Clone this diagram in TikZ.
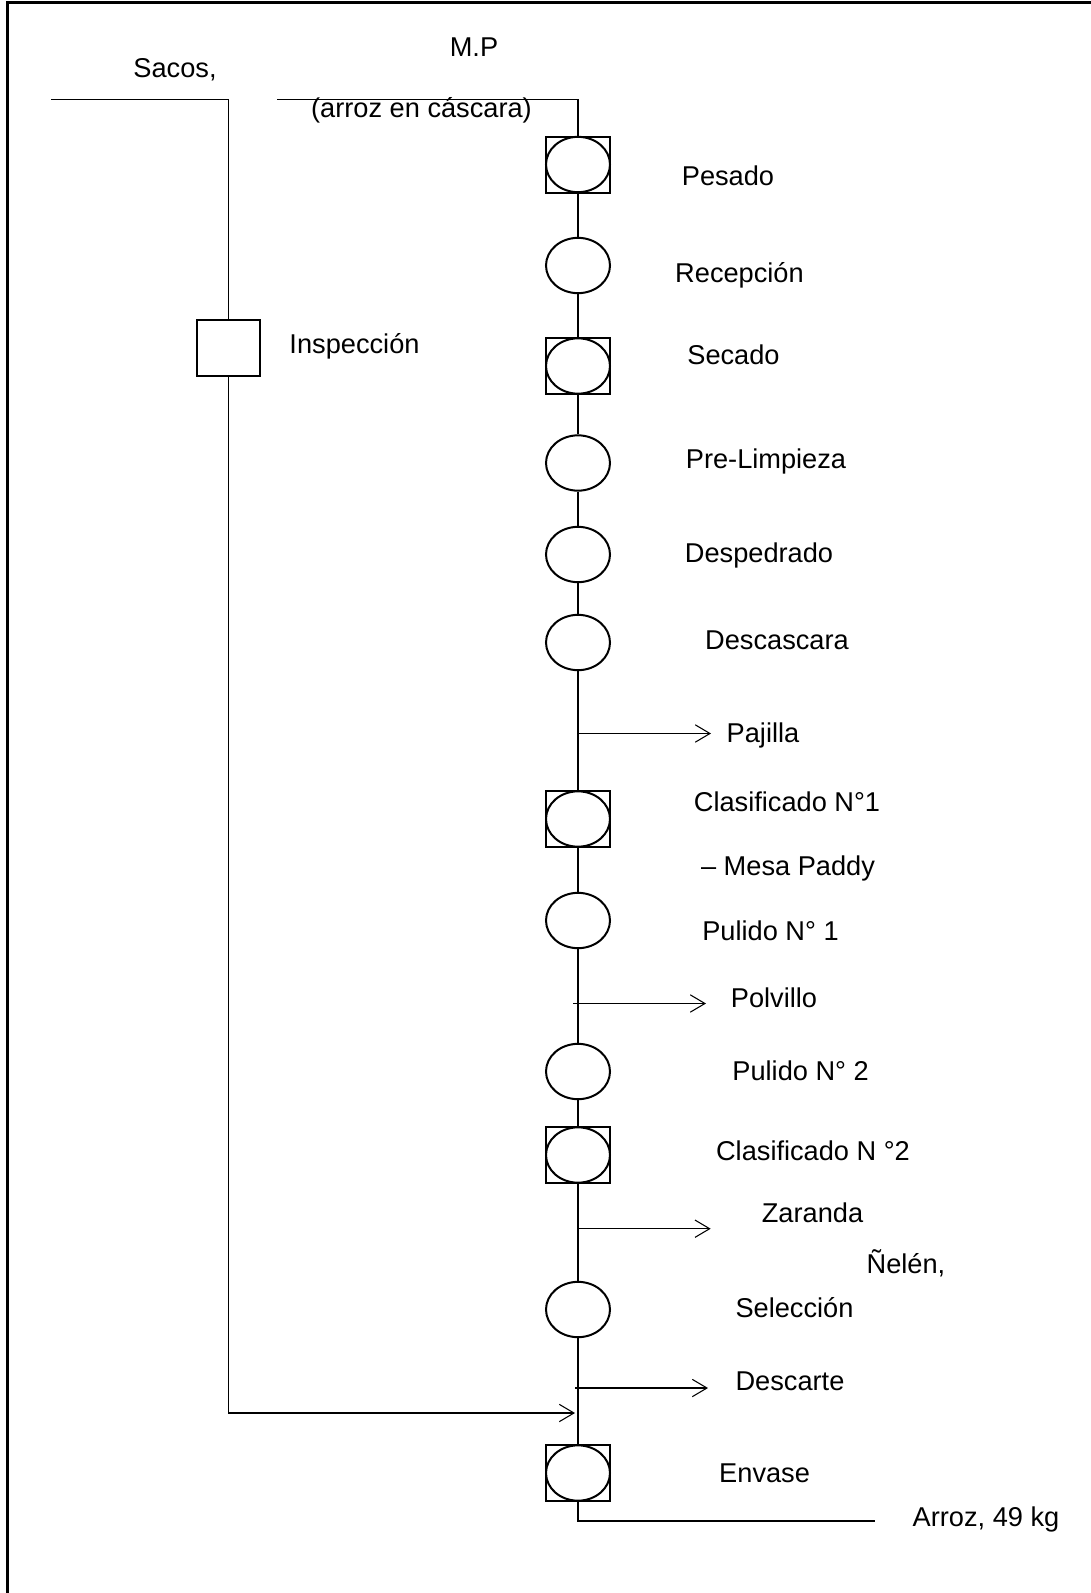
\documentclass[tikz,border=0pt]{standalone}
\usepackage{fontspec}
\setmainfont{Liberation Sans}
\usetikzlibrary{shapes.geometric,arrows.meta}

\tikzset{
  oper/.style={ellipse, draw, line width=1.5pt, minimum width=48pt, minimum height=41.5pt, inner sep=0pt},
  insp/.style={rectangle, draw, line width=1.5pt, minimum width=47.5pt, minimum height=42pt, inner sep=0pt},
  flow/.style={line width=0.8pt},
  salida/.style={flow, -{Straight Barb[length=11pt,width=13pt,line width=0.8pt]}},
  lbl/.style={anchor=base, inner sep=0pt, font=\fontsize{20.4}{24}\selectfont},
}

\begin{document}
\begin{tikzpicture}[x=0.75pt,y=0.75pt,yscale=-1]
\useasboundingbox (0,0) rectangle (1091,1593);

%Frame
\draw [line width=2pt] (7.3,1593) -- (7.3,2.5) -- (1091,2.5) ;

%Entradas
\coordinate (sacosini) at (51,99.5);
\coordinate (sacosesq) at (228.5,99.5);
\coordinate (sacosbaj) at (228.5,1413);
\coordinate (sacosfin) at (575,1413);
\coordinate (mpini) at (277,99.5);
\coordinate (mpesq) at (578,99.5);

%Shape: Square
\node [insp] (inspeccion) at (228.5,348) {};

%Operaciones
\node [insp] (pesado) at (578,164.5) {};
\node [oper] at (pesado) {};
\node [oper] (recepcion) at (578,265.5) {};
\node [insp] (secado) at (578,366) {};
\node [oper] at (secado) {};
\node [oper] (prelimpieza) at (578,463) {};
\node [oper] (despedrado) at (578,554.5) {};
\node [oper] (descascara) at (578,642.5) {};
\node [insp] (clasif1) at (578,819) {};
\node [oper] at (clasif1) {};
\node [oper] (pulido1) at (578,920.5) {};
\node [oper] (pulido2) at (578,1071.5) {};
\node [insp] (clasif2) at (578,1155) {};
\node [oper] at (clasif2) {};
\node [oper] (seleccion) at (578,1309.5) {};
\node [insp] (envase) at (578,1473) {};
\node [oper] at (envase) {};

%Salidas
\coordinate (pajillaini) at (578,733.5);
\coordinate (pajillafin) at (711,733.5);
\coordinate (polvilloini) at (573,1003.5);
\coordinate (polvillofin) at (706,1003.5);
\coordinate (zarandaini) at (578,1228.7);
\coordinate (zarandafin) at (710.7,1228.7);
\coordinate (descarteini) at (575,1388);
\coordinate (descartefin) at (708,1388);
\coordinate (arrozesq) at (578,1521);
\coordinate (arrozfin) at (874.5,1521);

%Straight Lines
\draw [flow] (sacosini) -- (sacosesq) -- (inspeccion) ;
\draw [salida] (inspeccion) -- (sacosbaj) -- (sacosfin) ;
\draw [flow] (mpini) -- (mpesq) -- (pesado) ;
\draw [flow] (pesado) -- (recepcion) -- (secado) -- (prelimpieza) -- (despedrado) -- (descascara) -- (clasif1) -- (pulido1) -- (pulido2) -- (clasif2) -- (seleccion) -- (envase) ;
\draw [flow] (envase) -- (arrozesq) -- (arrozfin) ;
\draw [salida] (pajillaini) -- (pajillafin) ;
\draw [salida] (polvilloini) -- (polvillofin) ;
\draw [salida] (zarandaini) -- (zarandafin) ;
\draw [salida] (descarteini) -- (descartefin) ;

% Text Node
\node [lbl] (tmp) at (474,56.7) {M.P};
% Text Node
\node [lbl] (tsacos) at (175,77.3) {Sacos,};
% Text Node
\node [lbl] (tcascara) at (421.5,117.5) {(arroz en cáscara)};
% Text Node
\node [lbl] (tinspeccion) at (354.5,353.3) {Inspección};
% Text Node
\node [lbl] (tpesado) at (728,185) {Pesado};
% Text Node
\node [lbl] (trecepcion) at (739.5,282.3) {Recepción};
% Text Node
\node [lbl] (tsecado) at (733.5,364) {Secado};
% Text Node
\node [lbl] (tprelimpieza) at (766,468.3) {Pre-Limpieza};
% Text Node
\node [lbl] (tdespedrado) at (759,562.7) {Despedrado};
% Text Node
\node [lbl] (tdescascara) at (777,649.3) {Descascara};
% Text Node
\node [lbl] (tpajilla) at (763,742.7) {Pajilla};
% Text Node
\node [lbl] (tclasif1) at (787,811.7) {Clasificado N°1};
% Text Node
\node [lbl] (tmesa) at (788,875) {– Mesa Paddy};
% Text Node
\node [lbl] (tpulido1) at (770.5,940) {Pulido N° 1};
% Text Node
\node [lbl] (tpolvillo) at (774,1007.3) {Polvillo};
% Text Node
\node [lbl] (tpulido2) at (800.6,1080) {Pulido N° 2};
% Text Node
\node [lbl] (tclasif2) at (813,1160) {Clasificado N °2};
% Text Node
\node [lbl] (tzaranda) at (812.5,1222.7) {Zaranda};
% Text Node
\node [lbl] (tnelen) at (906,1273.3) {Ñelén,};
% Text Node
\node [lbl] (tseleccion) at (794.5,1317.3) {Selección};
% Text Node
\node [lbl] (tdescarte) at (790,1390.7) {Descarte};
% Text Node
\node [lbl] (tenvase) at (764.6,1482.7) {Envase};
% Text Node
\node [lbl] (tarroz) at (986,1526) {Arroz, 49 kg};

\end{tikzpicture}
\end{document}
